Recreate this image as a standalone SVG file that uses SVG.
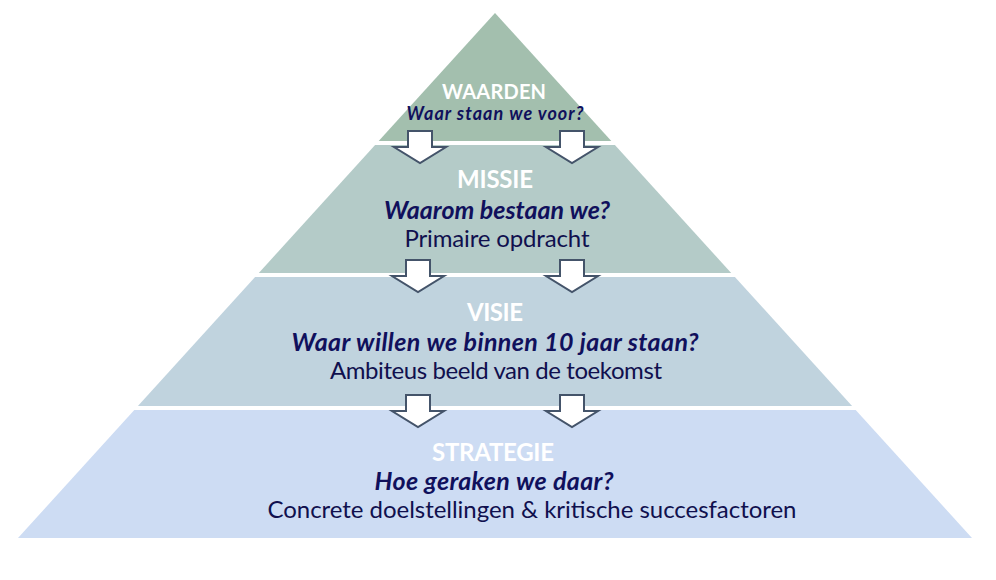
<svg xmlns="http://www.w3.org/2000/svg" width="996" height="580" viewBox="0 0 996 580">
<style>
text{font-family:Lato,"Open Sans","Liberation Sans",sans-serif;text-anchor:middle}
.t{font-weight:bold;fill:#ffffff;font-size:24px}
.q{font-weight:bold;font-style:italic;fill:#10105c;font-size:25px}
.s{fill:#10104e;font-size:24px}
.arr{fill:#ffffff;stroke:#44546a;stroke-width:2;stroke-linejoin:miter}
</style>
<defs>
<path id="arrow" class="arr" d="M-12,0 H12 V16 H26 L0,32 L-26,16 H-12 Z"/>
</defs>
<rect width="996" height="580" fill="#ffffff"/>
<g id="waarden">
<polygon points="495,13 611.3,141 378.7,141" fill="#a3bfae"/>
<text class="t" x="494" y="99" style="font-size:20px" textLength="104">WAARDEN</text>
<text class="q" x="495" y="120" style="font-size:18px" textLength="177">Waar staan we voor?</text>
</g>
<g id="missie">
<polygon points="375.1,145 614.9,145 731.2,273 258.8,273" fill="#b4cbc8"/>
<text class="t" x="495" y="188" textLength="76">MISSIE</text>
<text class="q" x="497" y="219" textLength="226">Waarom bestaan we?</text>
<text class="s" x="497" y="247" textLength="185">Primaire opdracht</text>
</g>
<g id="visie">
<polygon points="255.1,277 734.9,277 852.1,406 137.9,406" fill="#c0d3de"/>
<text class="t" x="495" y="321" textLength="56">VISIE</text>
<text class="q" x="495" y="351" textLength="407">Waar willen we binnen 10 jaar staan?</text>
<text class="s" x="496" y="379" textLength="332">Ambiteus beeld van de toekomst</text>
</g>
<g id="strategie">
<polygon points="134.3,410 855.7,410 972,538 18,538" fill="#cddcf3"/>
<text class="t" x="493" y="461" textLength="122">STRATEGIE</text>
<text class="q" x="494" y="490" textLength="239">Hoe geraken we daar?</text>
<text class="s" x="532" y="518" textLength="529">Concrete doelstellingen &amp; kritische succesfactoren</text>
</g>
<g id="connectors">
<use href="#arrow" x="420" y="131"/>
<use href="#arrow" x="572" y="131"/>
<use href="#arrow" x="418" y="260"/>
<use href="#arrow" x="572" y="260"/>
<use href="#arrow" x="418" y="395"/>
<use href="#arrow" x="572" y="395"/>
</g>
</svg>
